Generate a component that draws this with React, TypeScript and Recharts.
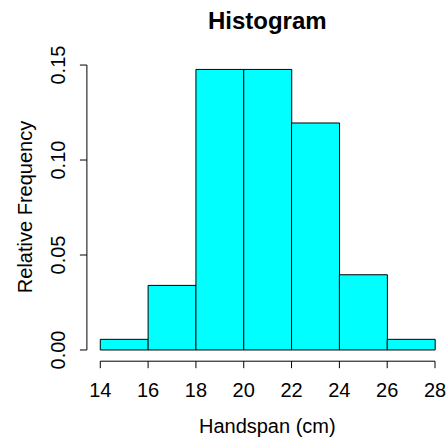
import React from 'react';
import { BarChart, Bar, XAxis, YAxis, ReferenceLine } from 'recharts';

// histogram bins (cm) and relative frequencies
const binStarts = [14, 16, 18, 20, 22, 24, 26];
const binWidth = 2;
const relFreq = [0.0056, 0.034, 0.1477, 0.1477, 0.1195, 0.0396, 0.0056];
const xTicks = [14, 16, 18, 20, 22, 24, 26, 28];
const yTicks = [0, 0.05, 0.1, 0.15];

const FONT = '"Liberation Sans", Arial, Helvetica, sans-serif';

const data = binStarts.map((s, i) => ({ mid: s + binWidth / 2, freq: relFreq[i] }));

// R style axis ranges: data range padded by 4% on each side
const xLo = binStarts[0];
const xHi = binStarts[binStarts.length - 1] + binWidth;
const xPad = (xHi - xLo) * 0.04;
const yMax = Math.max(...relFreq);
const yPad = yMax * 0.04;
const xDomain = [xLo - xPad, xHi + xPad];
const yDomain = [-yPad, yMax + yPad];

const XTick = (props: any) => {
  const { x, y, payload } = props;
  return (
    <text x={x} y={y} textAnchor="middle" fontSize={20} fontFamily={FONT} fill="#000">
      {payload.value}
    </text>
  );
};

const YTick = (props: any) => {
  const { x, y, payload } = props;
  return (
    <text
      x={x}
      y={y}
      transform={`rotate(-90, ${x}, ${y})`}
      textAnchor="middle"
      fontSize={20}
      fontFamily={FONT}
      fill="#000"
    >
      {payload.value.toFixed(2)}
    </text>
  );
};

export default function App() {
  return (
    <div style={{ position: 'absolute', left: 0, top: 0, width: 447, height: 437, overflow: 'hidden', background: '#fff' }}>
      <BarChart
        width={449}
        height={437}
        data={data}
        barCategoryGap={0}
        margin={{ top: 58.2, right: 0.6, left: 26.9, bottom: 35.8 }}
      >
        <XAxis
          dataKey="mid"
          type="number"
          domain={xDomain}
          allowDataOverflow
          ticks={xTicks}
          interval={0}
          axisLine={false}
          tickLine={{ stroke: '#000' }}
          tickSize={7}
          tickMargin={28.5}
          height={40}
          tick={<XTick />}
        />
        <YAxis
          type="number"
          domain={yDomain}
          allowDataOverflow
          ticks={yTicks}
          interval={0}
          axisLine={false}
          tickLine={{ stroke: '#000' }}
          tickSize={7}
          tickMargin={15}
          width={60}
          tick={<YTick />}
        />
        <ReferenceLine
          segment={[{ x: xLo, y: yDomain[0] }, { x: xHi, y: yDomain[0] }]}
          stroke="#000"
          ifOverflow="visible"
        />
        <ReferenceLine
          segment={[{ x: xDomain[0], y: yTicks[0] }, { x: xDomain[0], y: yTicks[yTicks.length - 1] }]}
          stroke="#000"
          ifOverflow="visible"
        />
        <Bar dataKey="freq" fill="#00FFFF" stroke="#000" strokeWidth={1} isAnimationActive={false} />
      </BarChart>
      <svg
        width={447}
        height={437}
        style={{ position: 'absolute', left: 0, top: 0, pointerEvents: 'none' }}
      >
        <text x={267.3} y={29.3} textAnchor="middle" fontSize={24} fontWeight="bold" fontFamily={FONT} fill="#000">
          Histogram
        </text>
        <text x={267.3} y={433.3} textAnchor="middle" fontSize={20} fontFamily={FONT} fill="#000">
          Handspan (cm)
        </text>
        <text
          x={31.7}
          y={207}
          transform="rotate(-90, 31.7, 207)"
          textAnchor="middle"
          fontSize={20}
          fontFamily={FONT}
          fill="#000"
        >
          Relative Frequency
        </text>
      </svg>
    </div>
  );
}
